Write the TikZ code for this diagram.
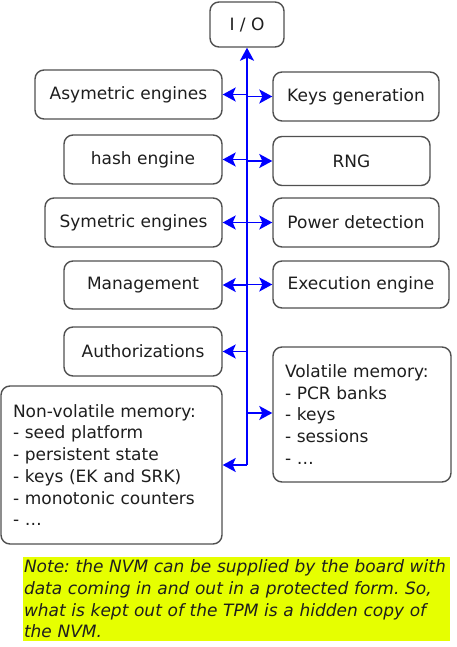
\documentclass[tikz,border=0pt]{standalone}
\usepackage{fontspec}
\setmainfont{DejaVu Sans}
\usetikzlibrary{arrows.meta}
\definecolor{boxline}{RGB}{80,80,80}
\definecolor{txt}{RGB}{30,30,30}
\definecolor{bus}{RGB}{0,0,255}
\definecolor{noteyellow}{RGB}{230,255,0}
\tikzset{bustip/.tip={Stealth[length=13pt,width=14pt,inset=3pt]}}
\begin{document}
\frenchspacing
\begin{tikzpicture}[x=1pt,y=-1pt,
  every node/.style={font=\fontsize{17}{21.7}\selectfont, text=txt},
  blk/.style={draw=boxline, line width=1.4pt, rounded corners=9pt, fill=white, inner sep=0pt, align=center},
  memblk/.style={blk, align=left},
  link/.style={draw=bus, line width=1.8pt, -bustip},
]
\useasboundingbox (0,0) rectangle (456,647);

\node[blk, minimum width=74pt, minimum height=45pt] (io) at (247,24.5) {I / O};
\node[blk, minimum width=187pt, minimum height=49pt] (asym) at (128.5,94.5) {Asymetric engines};
\node[blk, minimum width=166pt, minimum height=49pt] (keys) at (356,96.5) {Keys generation};
\node[blk, minimum width=158pt, minimum height=49pt] (hash) at (143,159.5) {hash engine};
\node[blk, minimum width=157pt, minimum height=49pt] (rng) at (351.5,161) {RNG};
\node[blk, minimum width=177pt, minimum height=49pt] (sym) at (133.5,222.5) {Symetric engines};
\node[blk, minimum width=166pt, minimum height=49pt] (power) at (356,222.5) {Power detection};
\node[blk, minimum width=158pt, minimum height=48pt] (mgmt) at (143,285) {Management};
\node[blk, minimum width=176pt, minimum height=47pt] (exec) at (361,284.5) {Execution engine};
\node[blk, minimum width=158pt, minimum height=49pt] (auth) at (143,351.5) {Authorizations};
\node[memblk, minimum width=178pt, minimum height=135pt, text width=154pt] (vol) at (362,414.5)
  {Volatile memory:\\- PCR banks\\- keys\\- sessions\\- \dots};
\node[memblk, minimum width=221pt, minimum height=158pt, text width=197pt] (nvm) at (111.5,465)
  {Non-volatile memory:\\- seed platform\\- persistent state\\- keys (EK and SRK)\\- monotonic counters\\- \dots};

\node[fill=noteyellow, inner sep=0pt, minimum width=427pt, minimum height=84pt, text width=425pt, align=left,
  font=\fontsize{17}{21.7}\selectfont\itshape] (note) at (236.5,599)
  {Note: the NVM can be supplied by the board with data coming in and out in a protected form. So, what is kept out of the TPM is a hidden copy of the NVM.};

\coordinate (b1) at (247,94.5);
\coordinate (b1r) at (247,96.5);
\coordinate (b2) at (247,159.5);
\coordinate (b2r) at (247,161);
\coordinate (b3) at (247,222.5);
\coordinate (b4) at (247,285);
\coordinate (b4r) at (247,284.5);
\coordinate (b5) at (247,351.5);
\coordinate (b6) at (247,413);
\coordinate (busbot) at (247,465);

\draw[link] (busbot) -- (io.south);
\draw[link] (b1) -- (asym.east);
\draw[link] (b1r) -- (keys.west);
\draw[link] (b2) -- (hash.east);
\draw[link] (b2r) -- (rng.west);
\draw[link] (b3) -- (sym.east);
\draw[link] (b3) -- (power.west);
\draw[link] (b4) -- (mgmt.east);
\draw[link] (b4r) -- (exec.west);
\draw[link] (b5) -- (auth.east);
\draw[link] (b6) -- (vol.west |- b6);
\draw[link] (busbot) -- (nvm.east);
\end{tikzpicture}
\end{document}
